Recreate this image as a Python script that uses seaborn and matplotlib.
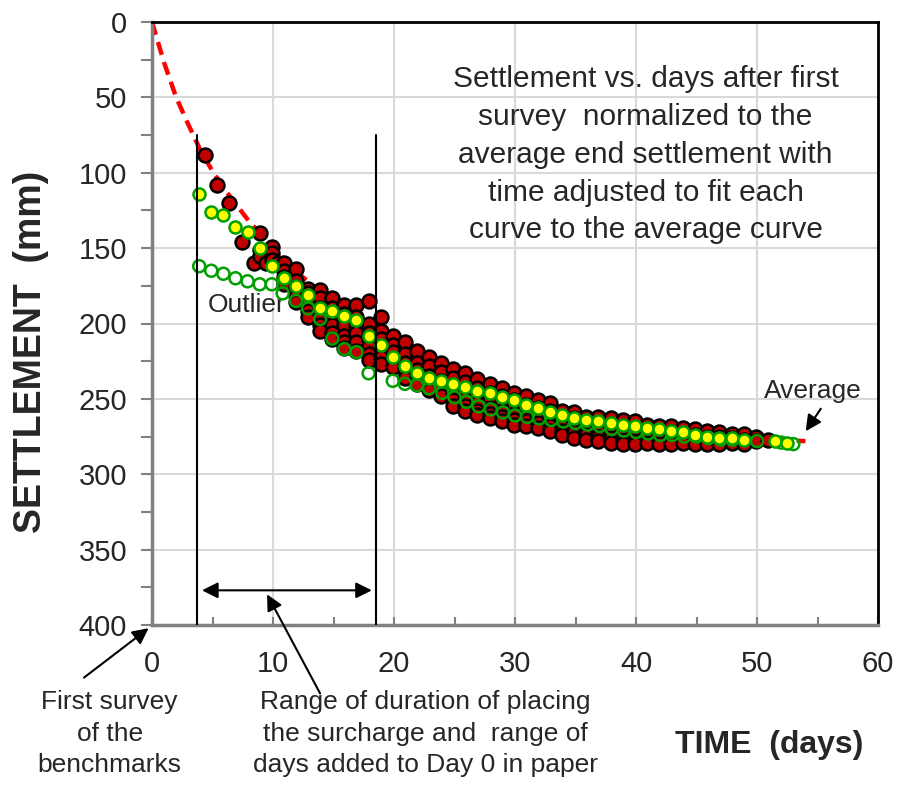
import numpy as np
import pandas as pd
import seaborn as sns
import matplotlib.pyplot as plt
from matplotlib.ticker import MultipleLocator

# average curve (days, mm)
avg_t = [0, 1, 2, 3, 4, 5, 6, 8, 10, 12, 14, 16, 18, 20, 22, 25, 28, 30, 33, 36, 40, 45, 50, 54]
avg_y = [0, 27, 50, 68, 85, 99, 111, 132, 150, 166, 180, 193, 205, 216, 226, 238, 248, 254, 261, 266, 271, 275, 277, 278]

# benchmark curves shifted to the average (red points), one list per day column
red_t = [4.4, 5.4, 6.4, 7.4, 8.4, 8.9, 9.4, 9.9, 10.4, 10.9, 11.4, 11.9, 12.9, 13.9, 14.9,
         15.9, 16.9, 17.9, 18.9, 19.9, 20.9, 21.9, 22.9, 23.9, 24.9, 25.9, 26.9, 27.9,
         28.9, 29.9, 30.9, 31.9, 32.9, 33.9, 34.9, 35.9, 36.9, 37.9, 38.9, 39.9, 40.9,
         41.9, 42.9, 43.9, 44.9, 45.9, 46.9, 47.9, 48.9, 49.9, 50.9]
red_y = [[88], [108], [120], [146], [160], [140, 151, 155], [160], [149, 153, 158], [160],
         [160, 165, 169, 174], [173], [164, 172, 176, 182, 186], [177, 180, 186, 192, 196],
         [178, 183, 190, 194, 201, 205], [183, 190, 198, 201, 206, 210],
         [188, 194, 198, 201, 208, 212, 216], [188, 196, 201, 206, 212, 218],
         [185, 200, 206, 210, 215, 220, 224], [196, 205, 210, 216, 222, 227],
         [208, 214, 219, 224, 229], [212, 220, 226, 230, 236], [218, 226, 231, 236, 240],
         [222, 228, 235, 240, 244], [226, 232, 238, 243, 248], [230, 236, 241, 246, 251, 255],
         [233, 239, 245, 250, 255, 258], [237, 243, 248, 253, 258, 261],
         [240, 246, 251, 256, 260, 263], [243, 248, 253, 258, 262, 265],
         [246, 251, 256, 260, 264, 267], [248, 254, 258, 262, 265, 268],
         [251, 256, 260, 263, 266, 269], [253, 258, 262, 265, 268, 271],
         [258, 262, 265, 268, 271, 274], [259, 263, 266, 269, 272, 276],
         [262, 265, 268, 271, 274, 277], [262, 266, 269, 272, 275, 278],
         [263, 267, 270, 273, 276, 279], [264, 268, 271, 274, 277, 280],
         [265, 269, 272, 275, 278, 280], [267, 270, 273, 276, 279], [268, 271, 274, 277, 280],
         [268, 272, 275, 278, 280], [269, 273, 276, 279], [270, 274, 277, 280],
         [271, 275, 278, 280], [272, 275, 278, 280], [273, 276, 279], [273, 277, 280],
         [275, 278], [277]]

# yellow curve
yel_t = [3.9, 4.9, 5.9, 6.9, 7.9, 8.9, 9.9, 10.9, 11.9, 12.9, 13.9, 14.9, 15.9, 16.9, 17.9,
         18.9, 19.9, 20.9, 21.9, 22.9, 23.9, 24.9, 25.9, 26.9, 27.9, 28.9, 29.9, 30.9, 31.9,
         32.9, 33.9, 34.9, 35.9, 36.9, 37.9, 38.9, 39.9, 40.9, 41.9, 42.9, 43.9, 44.9, 45.9,
         46.9, 47.9, 48.9, 51.5, 52.5]
yel_y = [114, 126, 128, 136, 139, 150, 162, 170, 175, 181, 190, 192, 195, 198, 208, 214, 222,
         228, 233, 236, 238, 240, 242, 245, 246, 249, 251, 254, 256, 259, 261, 263, 264, 265,
         266, 267, 268, 269, 270, 271, 272, 274, 275, 276, 276, 277, 278, 279]

# outlier curve (open green)
out_t = [3.9, 4.9, 5.9, 6.9, 7.9, 8.9, 9.9, 10.8, 11.9, 12.9, 13.9, 14.9, 15.9, 16.9, 17.9,
         19.9, 20.9, 21.9, 22.9, 24, 25, 26, 27, 28, 29, 30, 31, 32, 33, 34, 35, 36, 37, 38,
         39, 40, 41, 42, 43, 44, 45, 46, 47, 48, 50, 52, 53]
out_y = [162, 165, 167, 170, 172, 174, 174, 180, 185, 190, 197, 210, 217, 219, 233, 238, 240,
         241, 243, 246, 249, 252, 255, 257, 259, 261, 262, 263, 264, 265, 266, 267, 268, 270,
         271, 272, 273, 274, 274, 275, 275, 276, 277, 277, 278, 279, 280]

red_df = pd.DataFrame({"t": [t for t, ys in zip(red_t, red_y) for _ in ys],
                       "s": [v for ys in red_y for v in ys]})

sns.set_style("white")
plt.rcParams['font.family'] = ['Liberation Sans', 'DejaVu Sans']

fig = plt.figure(figsize=(8.97, 7.87), dpi=100)
ax = fig.add_axes([152/897, 1-625/787, (878-152)/897, (625-22)/787])

ax.grid(True, which="major", color="#d9d9d9", linewidth=1.5, zorder=0)
ax.set_axisbelow(True)

sns.lineplot(x=avg_t, y=avg_y, ax=ax, color="#ff0000", linewidth=3.2, linestyle=(0, (3, 1.7)), zorder=2)
sns.scatterplot(data=red_df, x="t", y="s", ax=ax, color="#c00000", edgecolor="black",
                linewidth=1.8, s=100, zorder=3)
sns.scatterplot(x=out_t, y=out_y, ax=ax, facecolor="none", edgecolor="#00a000",
                linewidth=1.8, s=75, zorder=4)
sns.scatterplot(x=yel_t, y=yel_y, ax=ax, color="#ffff00", edgecolor="#00a000",
                linewidth=1.8, s=75, zorder=5)

ax.set_xlim(0, 60)
ax.set_ylim(400, 0)
ax.xaxis.set_major_locator(MultipleLocator(10))
ax.xaxis.set_minor_locator(MultipleLocator(5))
ax.yaxis.set_major_locator(MultipleLocator(50))
ax.yaxis.set_minor_locator(MultipleLocator(25))
ax.tick_params(axis="x", which="both", direction="in", length=6, width=1.5, color="#808080",
               labelsize=21, pad=18, bottom=True)
ax.tick_params(axis="y", which="both", direction="out", length=8, width=1.5, color="#808080",
               labelsize=21, pad=10, left=True)
for side in ["left", "bottom"]:
    ax.spines[side].set_color("#808080")
    ax.spines[side].set_linewidth(2.5)
for side in ["top", "right"]:
    ax.spines[side].set_color("black")
    ax.spines[side].set_linewidth(2)

ax.set_xlabel("")
ax.set_ylabel("")
fig.text(31/897, 1-352/787, "SETTLEMENT  (mm)", rotation=90, ha="center", va="center",
         fontsize=27, fontweight="bold")

# surcharge range lines and arrow
ax.plot([3.75, 3.75], [75, 400], color="black", linewidth=1.5, zorder=6)
ax.plot([18.5, 18.5], [75, 400], color="black", linewidth=1.5, zorder=6)
ax.annotate("", xy=(3.9, 377), xytext=(18.4, 377),
            arrowprops=dict(arrowstyle="<|-|>", color="black", lw=1.5, mutation_scale=24))

ax.text(40.8, 88, "Settlement vs. days after first\nsurvey  normalized to the\naverage end settlement with\n"
        "time adjusted to fit each\ncurve to the average curve",
        ha="center", va="center", fontsize=21.5, linespacing=1.45)
ax.text(7.8, 188, "Outlier", ha="center", va="center", fontsize=19)
ax.text(54.6, 245, "Average", ha="center", va="center", fontsize=19)
ax.annotate("", xy=(53.9, 273), xytext=(55.4, 255), annotation_clip=False,
            arrowprops=dict(arrowstyle="-|>", color="black", lw=1.5, mutation_scale=24))

ax.text(-3.5, 472, "First survey\nof the\nbenchmarks", ha="center", va="center",
        fontsize=19, linespacing=1.38, clip_on=False)
ax.annotate("", xy=(-0.1, 401), xytext=(-5.8, 436), annotation_clip=False,
            arrowprops=dict(arrowstyle="-|>", color="black", lw=1.5, mutation_scale=24))

ax.text(22.6, 472, "Range of duration of placing\nthe surcharge and  range of\ndays added to Day 0 in paper",
        ha="center", va="center", fontsize=19, linespacing=1.38, clip_on=False)
ax.annotate("", xy=(9.4, 378), xytext=(14.0, 447), annotation_clip=False,
            arrowprops=dict(arrowstyle="-|>", color="black", lw=1.5, mutation_scale=24))

fig.text(769/897, 1-745/787, "TIME  (days)", ha="center", va="center", fontsize=23, fontweight="bold")

fig.savefig("out.png", dpi=100)
